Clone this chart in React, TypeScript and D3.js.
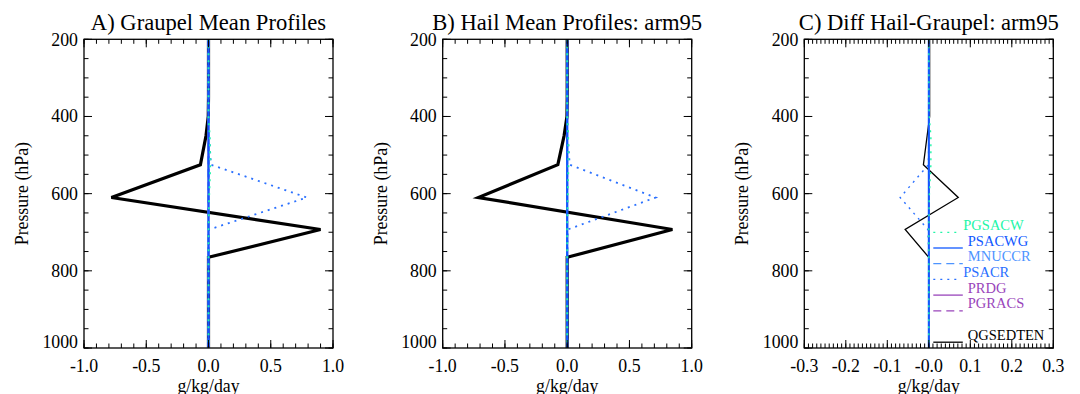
import React from 'react';
import * as d3 from 'd3';

// ---------- data ----------
const PRESSURE = [200, 250, 300, 350, 400, 450, 525, 610, 693, 765, 850, 925, 1000];

// Panel A: Graupel mean profiles (g/kg/day)
const A_PGSACW = [0, 0, 0, 0, 0, 0.01, 0.015, 0.005, 0, 0, 0, 0, 0];
const A_PSACWG = [0, 0, 0, 0, 0, 0, 0, 0, 0, 0, 0, 0, 0];
const A_MNUCCR = [0, 0, 0, 0, 0, 0, 0, 0, 0, 0, 0, 0, 0];
const A_PSACR = [0, 0, 0, 0, 0, 0.005, 0.02, 0.79, 0.005, 0, 0, 0, 0];
const A_PRDG = [0, 0, 0, 0, 0, 0, 0, 0, 0, 0, 0, 0, 0];
const A_PGRACS = [0, 0, 0, 0, 0, 0, 0, 0, 0, 0, 0, 0, 0];
const A_QGSEDTEN = [0, 0, 0, 0, -0.002, -0.02, -0.065, -0.78, 0.9, 0, 0, 0, 0];

// Panel B: Hail mean profiles
const B_PGSACW = [0, 0, 0, 0, 0, 0.008, 0.01, 0.004, 0, 0, 0, 0, 0];
const B_PSACWG = [0, 0, 0, 0, 0, 0, 0, 0, 0, 0, 0, 0, 0];
const B_MNUCCR = [0, 0, 0, 0, 0, 0, 0, 0, 0, 0, 0, 0, 0];
const B_PSACR = [0, 0, 0, 0, 0, 0.005, 0.02, 0.71, 0.004, 0, 0, 0, 0];
const B_PRDG = [0, 0, 0, 0, 0, 0, 0, 0, 0, 0, 0, 0, 0];
const B_PGRACS = [0, 0, 0, 0, 0, 0, 0, 0, 0, 0, 0, 0, 0];
const B_QGSEDTEN = [0, 0, 0, 0, -0.002, -0.025, -0.075, -0.714, 0.845, 0, 0, 0, 0];

// Panel C: difference Hail - Graupel
const C_PGSACW = [0, 0, 0, 0, 0.001, 0.005, 0.005, 0.001, 0, 0, 0, 0, 0];
const C_PSACWG = [0, 0, 0, 0, 0, 0, 0, 0, 0, 0, 0, 0, 0];
const C_MNUCCR = [0, 0, 0, 0, 0, 0, 0, 0, 0, 0, 0, 0, 0];
const C_PSACR = [0, 0, 0, 0, 0, 0, -0.001, -0.069, -0.002, 0, 0, 0, 0];
const C_PRDG = [0, 0, 0, 0, 0, 0, 0, 0.001, 0, 0, 0, 0, 0];
const C_PGRACS = [0, 0, 0, 0, 0, 0, 0, 0, 0, 0, 0, 0, 0];
const C_QGSEDTEN = [0.002, 0.002, 0.002, 0.002, 0.002, -0.004, -0.013, 0.071, -0.057, 0, 0, 0, 0];

const TITLES = ['A) Graupel Mean Profiles', 'B) Hail Mean Profiles: arm95', 'C) Diff Hail-Graupel: arm95'];
const X_TICKS_AB = [-1.0, -0.5, 0.0, 0.5, 1.0];
const X_LABELS_AB = ['-1.0', '-0.5', '0.0', '0.5', '1.0'];
const X_TICKS_C = [-0.3, -0.2, -0.1, 0.0, 0.1, 0.2, 0.3];
const X_LABELS_C = ['-0.3', '-0.2', '-0.1', '-0.0', '0.1', '0.2', '0.3'];
const Y_TICKS = [200, 400, 600, 800, 1000];
const Y_LABEL = 'Pressure (hPa)';
const X_LABEL = 'g/kg/day';
const LEGEND_NAMES = ['PGSACW', 'PSACWG', 'MNUCCR', 'PSACR', 'PRDG', 'PGRACS', '', 'QGSEDTEN'];

// ---------- styles ----------
const FONT = "'Liberation Serif', Tinos, 'Times New Roman', 'Nimbus Roman', 'DejaVu Serif', serif";
const COLORS: Record<string, string> = {
  PGSACW: '#22f5a8',
  PSACWG: '#1058ff',
  MNUCCR: '#4d94ff',
  PSACR: '#2a70ff',
  PRDG: '#9945bb',
  PGRACS: '#9945bb',
  QGSEDTEN: '#000000',
};
const DASH: Record<string, string> = {
  PGSACW: '2 5',
  PSACWG: '',
  MNUCCR: '8 5',
  PSACR: '2 5',
  PRDG: '',
  PGRACS: '8 5',
  QGSEDTEN: '',
};

const W = 1080;
const H = 394;
const TOP = 39.3;
const BOTTOM = 348;
const PW = 249;
const LEFTS = [84, 442.7, 804.3];

type Series = { name: string; values: number[] };

const txt = (size: number, extra: any = {}) => ({ fontFamily: FONT, fontSize: size + 'px', ...extra });

function Panel(props: {
  left: number;
  title: string;
  xDomain: [number, number];
  xTicks: number[];
  xLabels: string[];
  xMinorStep: number;
  series: Series[];
  thick: boolean;
  legend: boolean;
}) {
  const { left, title, xDomain, xTicks, xLabels, xMinorStep, series, thick, legend } = props;
  const x = d3.scaleLinear().domain(xDomain).range([left, left + PW]);
  const y = d3.scaleLinear().domain([200, 1000]).range([TOP, BOTTOM]);
  const line = d3
    .line<number>()
    .x((v) => x(v))
    .y((_, i) => y(PRESSURE[i]));

  const nMinor = Math.round((xDomain[1] - xDomain[0]) / xMinorStep);
  const xMinor = d3.range(nMinor + 1).map((i) => xDomain[0] + i * xMinorStep);
  const yMinor = d3.range(200, 1001, 50);
  const majL = 8;
  const minL = 4.5;

  const drawOrder = ['QGSEDTEN', 'PGRACS', 'PRDG', 'PSACR', 'MNUCCR', 'PSACWG', 'PGSACW'];
  const byName: Record<string, Series> = {};
  series.forEach((s) => (byName[s.name] = s));

  const widthFor = (name: string) => {
    if (name === 'QGSEDTEN') return thick ? 3.2 : 1.3;
    if (name === 'PSACWG') return thick ? 2.2 : 2;
    return thick ? 1.8 : 1.4;
  };

  const legX0 = x(0) + 4.5;
  const legX1 = legX0 + 29.5;
  const legY0 = 232.3;
  const legStep = 15.7;

  return (
    <g>
      <text x={left + PW / 2} y={30} textAnchor="middle" style={txt(22.6)} fill="#000">
        {title}
      </text>
      {drawOrder.map((n) => {
        const s = byName[n];
        if (!s) return null;
        return (
          <path
            key={n}
            d={line(s.values) || ''}
            fill="none"
            stroke={COLORS[n]}
            strokeWidth={widthFor(n)}
            strokeDasharray={DASH[n] || undefined}
            strokeLinejoin="miter"
          />
        );
      })}
      <rect x={left} y={TOP} width={PW} height={BOTTOM - TOP} fill="none" stroke="#000" strokeWidth={1.3} />
      {xMinor.map((v, i) => (
        <g key={'xm' + i}>
          <line x1={x(v)} x2={x(v)} y1={BOTTOM} y2={BOTTOM - minL} stroke="#000" strokeWidth={1} />
          <line x1={x(v)} x2={x(v)} y1={TOP} y2={TOP + minL} stroke="#000" strokeWidth={1} />
        </g>
      ))}
      {xTicks.map((v, i) => (
        <g key={'xM' + i}>
          <line x1={x(v)} x2={x(v)} y1={BOTTOM} y2={BOTTOM - majL} stroke="#000" strokeWidth={1} />
          <line x1={x(v)} x2={x(v)} y1={TOP} y2={TOP + majL} stroke="#000" strokeWidth={1} />
          <text x={x(v)} y={372} textAnchor="middle" style={txt(17.8)} fill="#000">
            {xLabels[i]}
          </text>
        </g>
      ))}
      {yMinor.map((p, i) => (
        <g key={'ym' + i}>
          <line x1={left} x2={left + minL} y1={y(p)} y2={y(p)} stroke="#000" strokeWidth={1} />
          <line x1={left + PW} x2={left + PW - minL} y1={y(p)} y2={y(p)} stroke="#000" strokeWidth={1} />
        </g>
      ))}
      {Y_TICKS.map((p, i) => {
        const yy = Math.min(Math.max(y(p) + 6, TOP + 7), BOTTOM - 0.5);
        return (
          <g key={'yM' + i}>
            <line x1={left} x2={left + majL} y1={y(p)} y2={y(p)} stroke="#000" strokeWidth={1} />
            <line x1={left + PW} x2={left + PW - majL} y1={y(p)} y2={y(p)} stroke="#000" strokeWidth={1} />
            <text x={left - 6} y={yy} textAnchor="end" style={txt(17.8)} fill="#000">
              {p}
            </text>
          </g>
        );
      })}
      <text
        transform={`translate(${left - 56},${(TOP + BOTTOM) / 2}) rotate(-90)`}
        textAnchor="middle"
        style={txt(17.8)}
        fill="#000"
      >
        {Y_LABEL}
      </text>
      <text x={left + PW / 2} y={391.5} textAnchor="middle" style={txt(17.8)} fill="#000">
        {X_LABEL}
      </text>
      {legend &&
        LEGEND_NAMES.map((n, i) => {
          if (!n) return null;
          const ly = legY0 + i * legStep;
          const dotted = DASH[n] === '2 5';
          return (
            <g key={'lg' + n}>
              <line
                x1={legX0}
                x2={dotted ? legX1 - 2 : legX1}
                y1={ly}
                y2={ly}
                stroke={COLORS[n]}
                strokeWidth={1.3}
                strokeDasharray={DASH[n] || undefined}
              />
              <text x={dotted ? legX1 + 0.5 : legX1 + 5} y={ly - 2.5} style={txt(14.5)} fill={COLORS[n]}>
                {n}
              </text>
            </g>
          );
        })}
    </g>
  );
}

function mk(vals: number[][]): Series[] {
  const names = ['PGSACW', 'PSACWG', 'MNUCCR', 'PSACR', 'PRDG', 'PGRACS', 'QGSEDTEN'];
  return names.map((n, i) => ({ name: n, values: vals[i] }));
}

export default function App() {
  const sA = mk([A_PGSACW, A_PSACWG, A_MNUCCR, A_PSACR, A_PRDG, A_PGRACS, A_QGSEDTEN]);
  const sB = mk([B_PGSACW, B_PSACWG, B_MNUCCR, B_PSACR, B_PRDG, B_PGRACS, B_QGSEDTEN]);
  const sC = mk([C_PGSACW, C_PSACWG, C_MNUCCR, C_PSACR, C_PRDG, C_PGRACS, C_QGSEDTEN]);
  return (
    <svg
      width={W}
      height={H}
      viewBox={`0 0 ${W} ${H}`}
      style={{ position: 'absolute', left: 0, top: 0, background: '#fff' }}
    >
      <rect x={0} y={0} width={W} height={H} fill="#fff" />
      <Panel left={LEFTS[0]} title={TITLES[0]} xDomain={[-1, 1]} xTicks={X_TICKS_AB} xLabels={X_LABELS_AB} xMinorStep={0.1} series={sA} thick={true} legend={false} />
      <Panel left={LEFTS[1]} title={TITLES[1]} xDomain={[-1, 1]} xTicks={X_TICKS_AB} xLabels={X_LABELS_AB} xMinorStep={0.1} series={sB} thick={true} legend={false} />
      <Panel left={LEFTS[2]} title={TITLES[2]} xDomain={[-0.3, 0.3]} xTicks={X_TICKS_C} xLabels={X_LABELS_C} xMinorStep={0.01} series={sC} thick={false} legend={true} />
    </svg>
  );
}
